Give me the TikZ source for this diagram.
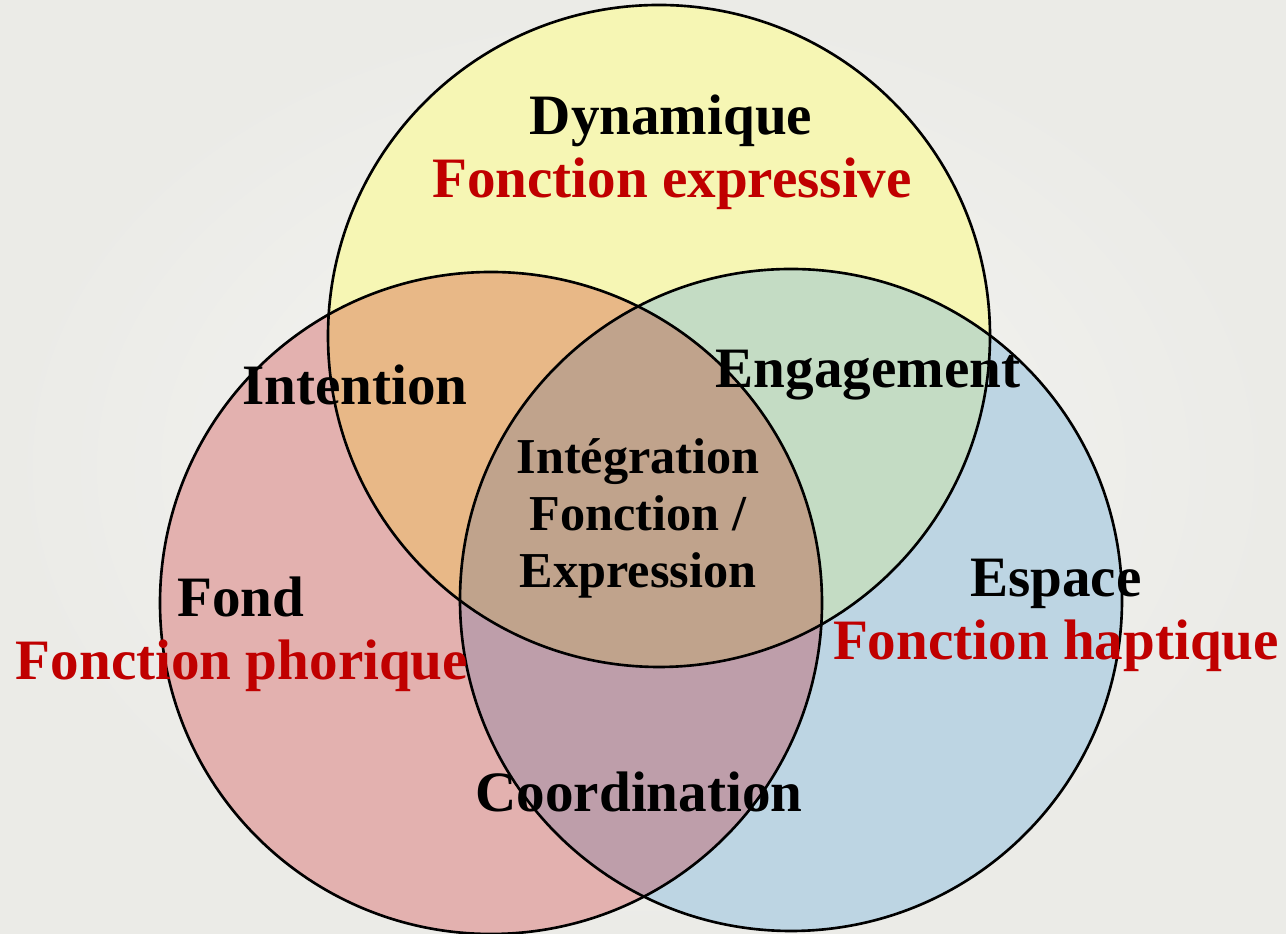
\documentclass[tikz,border=0pt]{standalone}
\usepackage{fontspec}
\setmainfont{Liberation Serif}
\definecolor{bgin}{RGB}{245,245,243}
\definecolor{bgout}{RGB}{235,235,231}
\definecolor{yfill}{RGB}{246,246,180}
\definecolor{rfill}{RGB}{227,177,175}
\definecolor{bfill}{RGB}{189,213,227}
\definecolor{ofill}{RGB}{232,184,135}
\definecolor{gfill}{RGB}{196,220,196}
\definecolor{pfill}{RGB}{190,158,170}
\definecolor{cfill}{RGB}{192,163,140}
\definecolor{fnred}{RGB}{192,0,0}
\begin{document}
\begin{tikzpicture}[x=0.2mm, y=0.2mm,
    ring/.style={draw=black, line width=1.5pt},
    lbl/.style={font=\bfseries\fontsize{32.5}{38}\selectfont, inner sep=0pt, anchor=base},
    fn/.style={lbl, text=fnred}]
  \shade[inner color=bgin, outer color=bgout] (0,0) rectangle (1286,934);
  \useasboundingbox (0,0) rectangle (1286,934);
  \coordinate (dyn) at (659,598);
  \coordinate (fond) at (491,331);
  \coordinate (esp) at (791,334);
  % circles and their overlaps
  \fill[yfill] (dyn) circle (331);
  \fill[rfill] (fond) circle (331);
  \fill[bfill] (esp) circle (331);
  \begin{scope}
    \clip (fond) circle (331);
    \fill[pfill] (esp) circle (331);
  \end{scope}
  \begin{scope}
    \clip (dyn) circle (331);
    \fill[ofill] (fond) circle (331);
    \fill[gfill] (esp) circle (331);
    \clip (fond) circle (331);
    \fill[cfill] (esp) circle (331);
  \end{scope}
  \draw[ring] (dyn) circle (331);
  \draw[ring] (fond) circle (331);
  \draw[ring] (esp) circle (331);
  % labels
  \node[lbl] (dynamique) at (671,799) {Dynamique};
  \node[fn] (expressive) at (672,736) {Fonction expressive};
  \node[lbl] (intention) at (355,529) {Intention};
  \node[lbl] (engagement) at (868,546) {Engagement};
  \node[font=\bfseries\fontsize{28.6}{32.4}\selectfont, align=center, inner sep=0pt]
    (integration) at (638,416) {Intégration\\Fonction /\\Expression};
  \node[lbl] (fondlbl) at (241,317) {Fond};
  \node[fn] (phorique) at (242,254) {Fonction phorique};
  \node[lbl] (espace) at (1056,337) {Espace};
  \node[fn] (haptique) at (1056,274) {Fonction haptique};
  \node[lbl] (coordination) at (639,122) {Coordination};
\end{tikzpicture}
\end{document}
